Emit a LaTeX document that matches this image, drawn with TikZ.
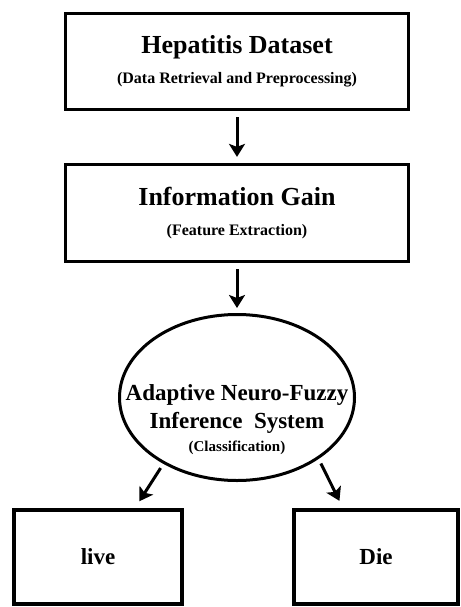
\documentclass[tikz,border=0pt]{standalone}
\usepackage{fontspec}
\setmainfont{Liberation Serif}
\usetikzlibrary{arrows.meta,positioning,calc,shapes.geometric}
\newcommand{\titr}[1]{{\fontsize{26}{30}\selectfont #1}}
\newcommand{\sous}[1]{{\fontsize{16}{19}\selectfont #1}}
\tikzset{
  bloc/.style={rectangle, draw, line width=3.2pt, minimum width=343pt, minimum height=96pt,
               align=center, font=\bfseries\fontsize{16}{30}\selectfont},
  sortie/.style={rectangle, draw, line width=4pt, minimum height=94pt,
                 font=\bfseries\fontsize{23}{26}\selectfont},
  ovale/.style={ellipse, draw, line width=3pt, minimum width=235pt, minimum height=166pt},
  etiq/.style={align=center, font=\bfseries\fontsize{15}{23}\selectfont},
  arr/.style={-{Stealth[length=13pt,width=16pt,inset=3pt]}, line width=3pt},
}
\begin{document}
\begin{tikzpicture}[x=1pt,y=1pt]
    \useasboundingbox (0,0) rectangle (460,-607);
    % Etapes
    \node[bloc] (hep) at (237,-61.5)
      {\titr{Hepatitis Dataset}\\\sous{(Data Retrieval and Preprocessing)}};
    \node[bloc, minimum height=97pt] (gain) at (237,-213)
      {\titr{Information Gain}\\\sous{(Feature Extraction)}};
    % Classifieur
    \node[ovale, label={[etiq, yshift=-22pt]center:
      {\fontsize{23}{28}\selectfont Adaptive Neuro-Fuzzy}\\[5pt]
      {\fontsize{23}{28}\selectfont Inference\ \ System}\\(Classification)}] (anfis) at (237,-397.5) {};
    % Sorties
    \node[sortie, minimum width=168pt] (live) at (98,-557) {live};
    \node[sortie, minimum width=164pt] (die) at (376,-557) {Die};
    % Flèches
    \draw[arr, shorten <=6pt, shorten >=6pt] (hep) -- (gain);
    \draw[arr, shorten <=6pt, shorten >=5pt] (gain) -- (anfis);
    \draw[arr, shorten <=5pt, shorten >=8pt] (anfis.222) -- ($(live.north)+(37,0)$);
    \draw[arr, shorten <=5pt, shorten >=8pt] (anfis.323) -- ($(die.north)+(-33,0)$);
  \end{tikzpicture}
\end{document}
